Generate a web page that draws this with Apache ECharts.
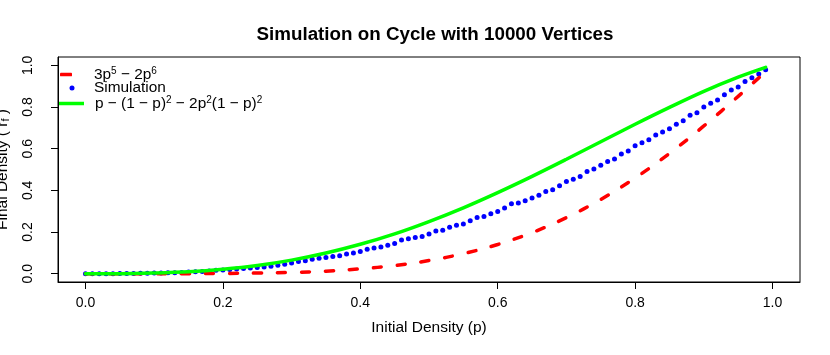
<!DOCTYPE html>
<html>
<head>
<meta charset="utf-8">
<script src="https://cdn.jsdelivr.net/npm/echarts@6/dist/echarts.min.js"></script>
<style>
  html, body { margin: 0; padding: 0; background: #fff; }
  #main { width: 830px; height: 355px; }
</style>
</head>
<body>
<div id="main"></div>
<script>
// initial density for the simulation points
var simP = [
  0.00, 0.01, 0.02, 0.03, 0.04, 0.05, 0.06, 0.07, 0.08, 0.09,
  0.10, 0.11, 0.12, 0.13, 0.14, 0.15, 0.16, 0.17, 0.18, 0.19,
  0.20, 0.21, 0.22, 0.23, 0.24, 0.25, 0.26, 0.27, 0.28, 0.29,
  0.30, 0.31, 0.32, 0.33, 0.34, 0.35, 0.36, 0.37, 0.38, 0.39,
  0.40, 0.41, 0.42, 0.43, 0.44, 0.45, 0.46, 0.47, 0.48, 0.49,
  0.50, 0.51, 0.52, 0.53, 0.54, 0.55, 0.56, 0.57, 0.58, 0.59,
  0.60, 0.61, 0.62, 0.63, 0.64, 0.65, 0.66, 0.67, 0.68, 0.69,
  0.70, 0.71, 0.72, 0.73, 0.74, 0.75, 0.76, 0.77, 0.78, 0.79,
  0.80, 0.81, 0.82, 0.83, 0.84, 0.85, 0.86, 0.87, 0.88, 0.89,
  0.90, 0.91, 0.92, 0.93, 0.94, 0.95, 0.96, 0.97, 0.98, 0.99
];
// final density from the simulation
var simR = [
  0.000, 0.000, 0.000, 0.000, 0.000, 0.001, 0.001, 0.001, 0.002, 0.002,
  0.003, 0.003, 0.004, 0.005, 0.006, 0.008, 0.009, 0.011, 0.013, 0.016,
  0.018, 0.020, 0.022, 0.025, 0.027, 0.030, 0.032, 0.036, 0.040, 0.045,
  0.051, 0.058, 0.062, 0.069, 0.074, 0.078, 0.082, 0.086, 0.095, 0.099,
  0.106, 0.117, 0.123, 0.128, 0.136, 0.145, 0.162, 0.168, 0.174, 0.179,
  0.191, 0.205, 0.209, 0.223, 0.232, 0.238, 0.254, 0.270, 0.274, 0.288,
  0.298, 0.315, 0.336, 0.339, 0.350, 0.363, 0.376, 0.395, 0.403, 0.422,
  0.443, 0.453, 0.467, 0.490, 0.503, 0.520, 0.539, 0.551, 0.575, 0.589,
  0.614, 0.629, 0.643, 0.666, 0.680, 0.696, 0.717, 0.734, 0.760, 0.773,
  0.800, 0.818, 0.834, 0.859, 0.882, 0.896, 0.922, 0.940, 0.959, 0.979
];
// curves, read at these p
var curveP = [0, 0.05, 0.10, 0.15, 0.20, 0.25, 0.30, 0.35, 0.40, 0.45, 0.50,
              0.55, 0.60, 0.65, 0.70, 0.75, 0.80, 0.85, 0.90, 0.95, 0.99];
var redR   = [0, 0.000, 0.000, 0.000, 0.001, 0.003, 0.006, 0.012, 0.023, 0.039, 0.063,
              0.096, 0.140, 0.197, 0.269, 0.356, 0.459, 0.577, 0.709, 0.851, 0.970];
var greenR = [0, 0.000, 0.003, 0.009, 0.021, 0.039, 0.065, 0.099, 0.141, 0.191, 0.250,
              0.316, 0.389, 0.467, 0.549, 0.633, 0.717, 0.798, 0.875, 0.943, 0.990];
var tickVals = [0, 0.2, 0.4, 0.6, 0.8, 1.0];

function pairs(xs, ys) {
  return xs.map(function (x, i) { return [x, ys[i]]; });
}

var legendText = {
  red: '3p{sup|5} − 2p{sup|6}',
  Simulation: 'Simulation',
  green: 'p − (1 − p){sup|2} − 2p{sup|2}(1 − p){sup|2}'
};
var legendRich = {
  sup: { fontSize: 10, verticalAlign: 'top', padding: [0, 0, 7, 0], fontFamily: 'Liberation Sans', color: '#000' }
};
// one legend per entry so each key can have its own size
function mkLegend(name, icon, left, top, w, h, textPad) {
  return {
    data: [{ name: name, icon: icon }],
    orient: 'vertical',
    left: left,
    top: top,
    padding: 0,
    itemWidth: w,
    itemHeight: h,
    itemGap: 0,
    selectedMode: false,
    formatter: function (n) { return legendText[n]; },
    textStyle: {
      fontFamily: 'Liberation Sans', fontSize: 15.4, color: '#000',
      padding: [0, 0, 0, textPad], rich: legendRich
    }
  };
}

var chart = echarts.init(document.getElementById('main'));
chart.setOption({
  animation: false,
  backgroundColor: '#fff',
  title: {
    text: 'Simulation on Cycle with 10000 Vertices',
    left: 430,
    textAlign: 'center',
    top: 20,
    textStyle: { fontFamily: 'Liberation Sans', fontSize: 18.8, fontWeight: 'bold', color: '#000' }
  },
  legend: [
    mkLegend('red', 'roundRect', 60, 66, 12, 3.5, 17),
    mkLegend('Simulation', 'circle', 69.5, 80.5, 5, 5, 14.5),
    mkLegend('green', 'rect', 59, 95, 25, 3.5, 6)
  ],
  grid: {
    left: 58, right: 30, top: 57, bottom: 73,
    outerBoundsMode: 'none',
    show: true, borderColor: '#000', borderWidth: 1
  },
  xAxis: {
    type: 'value',
    min: -0.04, max: 1.04,
    name: 'Initial Density (p)',
    nameLocation: 'middle',
    nameGap: 38,
    nameTextStyle: { fontFamily: 'Liberation Sans', fontSize: 15.5, color: '#000' },
    splitLine: { show: false },
    axisLine: { show: true, onZero: false, lineStyle: { color: '#000' } },
    axisTick: { show: true, length: 7, customValues: tickVals, lineStyle: { color: '#000' } },
    axisLabel: {
      customValues: tickVals, margin: 14,
      fontFamily: 'Liberation Sans', fontSize: 14, color: '#000',
      formatter: function (v) { return v.toFixed(1); }
    }
  },
  yAxis: {
    type: 'value',
    min: -0.04, max: 1.04,
    name: 'Final Density ( r{sub|f} )',
    nameLocation: 'middle',
    nameGap: 47,
    nameTextStyle: {
      fontFamily: 'Liberation Sans', fontSize: 15.5, color: '#000',
      rich: { sub: { fontSize: 11, verticalAlign: 'bottom', padding: [6, 0, 0, 0], fontFamily: 'Liberation Sans', color: '#000' } }
    },
    splitLine: { show: false },
    axisLine: { show: true, onZero: false, lineStyle: { color: '#000' } },
    axisTick: { show: true, length: 7, customValues: tickVals, lineStyle: { color: '#000' } },
    axisLabel: {
      customValues: tickVals, rotate: 90, margin: 23,
      fontFamily: 'Liberation Sans', fontSize: 14, color: '#000',
      formatter: function (v) { return v.toFixed(1); }
    }
  },
  series: [
    {
      name: 'Simulation',
      type: 'scatter',
      data: pairs(simP, simR),
      symbol: 'circle',
      symbolSize: 5,
      itemStyle: { color: '#0000ff', opacity: 1 },
      z: 2
    },
    {
      name: 'red',
      type: 'line',
      data: pairs(curveP, redR),
      smooth: 0.35,
      symbol: 'none',
      lineStyle: { color: '#ff0000', width: 3.5, type: [8, 16], cap: 'round' },
      itemStyle: { color: '#ff0000' },
      z: 3
    },
    {
      name: 'green',
      type: 'line',
      data: pairs(curveP, greenR),
      smooth: 0.35,
      symbol: 'none',
      lineStyle: { color: '#00ff00', width: 3.5, cap: 'round' },
      itemStyle: { color: '#00ff00' },
      z: 4
    }
  ]
});
</script>
</body>
</html>
